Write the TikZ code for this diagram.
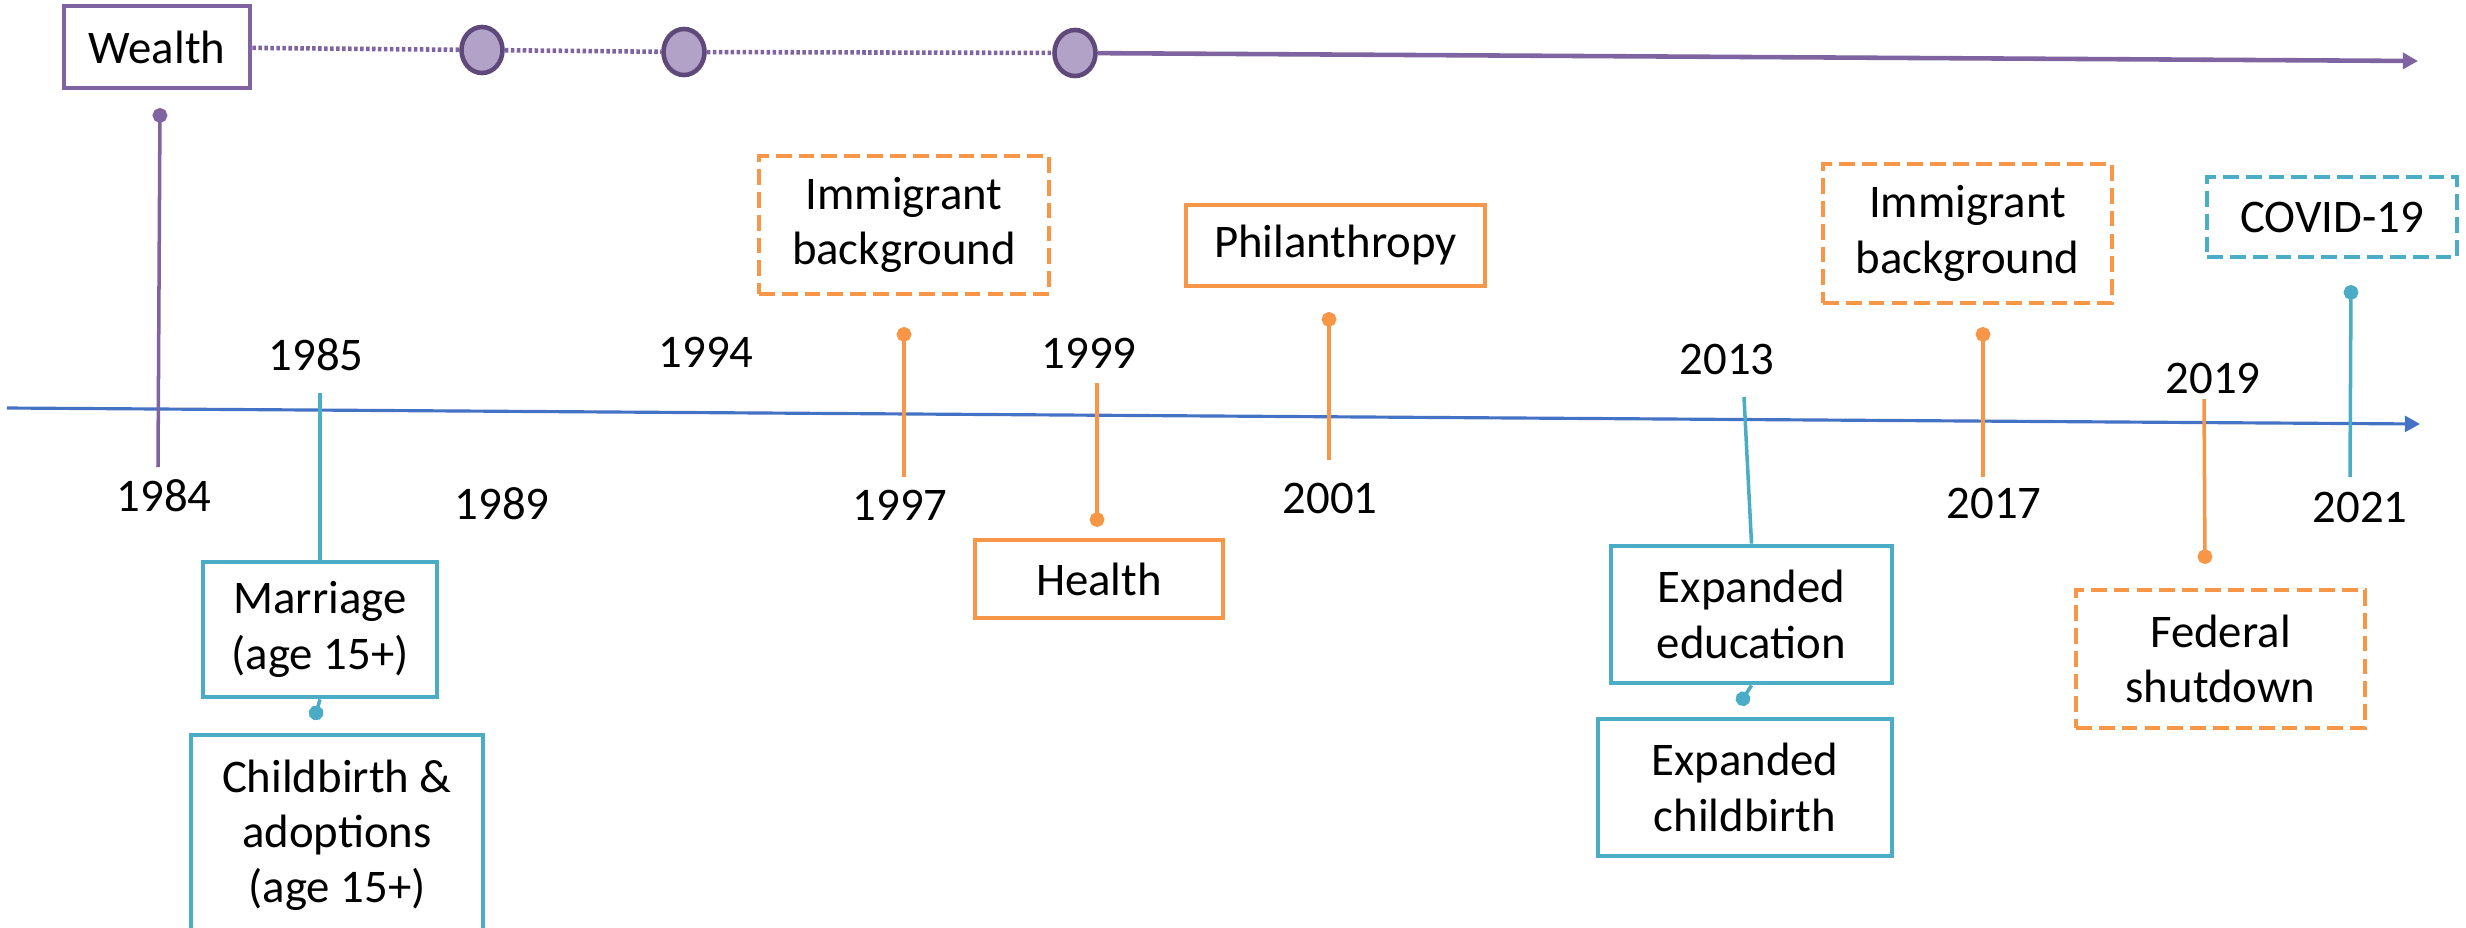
\documentclass[tikz,border=0pt]{standalone}
\usepackage{fontspec}
\setmainfont{Carlito}
\usetikzlibrary{arrows.meta,shapes.geometric}

\definecolor{wealthpurple}{HTML}{8064A2}
\definecolor{dotpurple}{HTML}{B3A2C7}
\definecolor{rimpurple}{HTML}{5F497A}
\definecolor{evorange}{HTML}{F79646}
\definecolor{evcyan}{HTML}{4BACC6}
\definecolor{axisblue}{HTML}{4472C4}

\begin{document}
\begin{tikzpicture}[x=0.01cm,y=-0.01cm,
    font=\fontsize{13.3pt}{15.7pt}\selectfont,
    box/.style={draw,line width=1.35pt,inner sep=0pt,align=center,fill=white},
    dbox/.style={box,dash pattern=on 4.5pt off 2pt},
    stem/.style={line width=1pt},
    pin/.style={{Circle[length=4.2pt]}-},
    pinend/.style={-{Circle[length=4.2pt]}},
    tip/.style={-{Triangle[length=4.3pt,width=4.5pt]}}]

  \clip (0,0) rectangle (2466,927);

  % wealth line along the top
  \begin{scope}[every node/.style={ellipse,draw=rimpurple,fill=dotpurple,line width=1.3pt,
      minimum width=0.41cm,minimum height=0.46cm,inner sep=0pt}]
    \node (p1) at (482,50)  {};
    \node (p2) at (684,52)  {};
    \node (p3) at (1075,53) {};
  \end{scope}
  \node[box,draw=wealthpurple,minimum width=1.86cm,minimum height=0.82cm] (w) at (157,47) {Wealth};
  \coordinate (pend) at (2418,61);

  \begin{scope}[wealthpurple,line width=1.3pt]
    \path (w)  edge[dash pattern=on 1pt off 0.7pt] (p1);
    \path (p1) edge[dash pattern=on 1pt off 0.7pt] (p2);
    \path (p2) edge[dash pattern=on 1pt off 0.7pt] (p3);
    \draw[tip] (p3) -- (pend);
  \end{scope}

  % main axis
  \coordinate (a0) at (7,408);
  \coordinate (a1) at (2420,424);
  \draw[axisblue,line width=0.9pt,tip] (a0) -- (a1);

  % years
  \begin{scope}[every node/.style={inner sep=0pt}]
    \node (y84) at (164,496)  {1984};
    \node (y85) at (316,355)  {1985};
    \node (y89) at (502,504)  {1989};
    \node (y94) at (706,352)  {1994};
    \node (y97) at (900,505)  {1997};
    \node (y99) at (1089,353) {1999};
    \node (y01) at (1330,498) {2001};
    \node (y13) at (1727,359) {2013};
    \node (y17) at (1994,503) {2017};
    \node (y19) at (2213,378) {2019};
    \node (y21) at (2360,507) {2021};
  \end{scope}

  % event boxes
  \begin{scope}[every node/.style={box,draw=evcyan}]
    \node[minimum width=2.34cm,minimum height=1.35cm] (marr) at (320,629.5) {Marriage\\(age 15+)};
    \node[minimum width=2.92cm,minimum height=2.00cm] (chld) at (337,835)   {Childbirth \&\\adoptions\\(age 15+)};
    \node[minimum width=2.81cm,minimum height=1.37cm] (edu)  at (1751.5,614.5) {Expanded\\education};
    \node[minimum width=2.94cm,minimum height=1.37cm] (xchb) at (1745,787.5) {Expanded\\childbirth};
    \node[dbox,draw=evcyan,minimum width=2.50cm,minimum height=0.80cm] (cov) at (2332,217) {COVID-19};
  \end{scope}

  \begin{scope}[every node/.style={box,draw=evorange}]
    \node[dbox,draw=evorange,minimum width=2.90cm,minimum height=1.38cm] (imm1) at (904,225)    {Immigrant\\background};
    \node[minimum width=2.48cm,minimum height=0.78cm] (hlth) at (1099,579)   {Health};
    \node[minimum width=2.99cm,minimum height=0.81cm] (phil) at (1335.5,245.5) {Philanthropy};
    \node[dbox,draw=evorange,minimum width=2.89cm,minimum height=1.39cm] (imm2) at (1967.5,233.5) {Immigrant\\background};
    \node[dbox,draw=evorange,minimum width=2.89cm,minimum height=1.38cm] (fed)  at (2220.5,659)  {Federal\\shutdown};
  \end{scope}

  % stems
  \coordinate (s84a) at (160,108);  \coordinate (s84b) at (158,467);
  \coordinate (s85)  at (320,393);
  \coordinate (s85d) at (314,720);
  \coordinate (s97a) at (904,327);  \coordinate (s97b) at (904,477);
  \coordinate (s99a) at (1097,383); \coordinate (s99b) at (1097,527);
  \coordinate (s01a) at (1329,312); \coordinate (s01b) at (1329,460);
  \coordinate (s13)  at (1744,397);
  \coordinate (s13d) at (1739,705);
  \coordinate (s17a) at (1983,327); \coordinate (s17b) at (1983,477);
  \coordinate (s19a) at (2204,399); \coordinate (s19b) at (2205,564);
  \coordinate (s21a) at (2351,285); \coordinate (s21b) at (2350,477);

  \begin{scope}[stem]
    \draw[wealthpurple,pin] (s84a) -- (s84b);
    \draw[evcyan] (s85) -- (marr.north);
    \draw[evcyan,pinend] (marr.south) -- (s85d);
    \draw[evorange,pin] (s97a) -- (s97b);
    \draw[evorange,pinend] (s99a) -- (s99b);
    \draw[evorange,pin] (s01a) -- (s01b);
    \draw[evcyan] (s13) -- (edu.north);
    \draw[evcyan,pinend] (edu.south) -- (s13d);
    \draw[evorange,pin] (s17a) -- (s17b);
    \draw[evorange,pinend] (s19a) -- (s19b);
    \draw[evcyan,pin] (s21a) -- (s21b);
  \end{scope}

\end{tikzpicture}
\end{document}
